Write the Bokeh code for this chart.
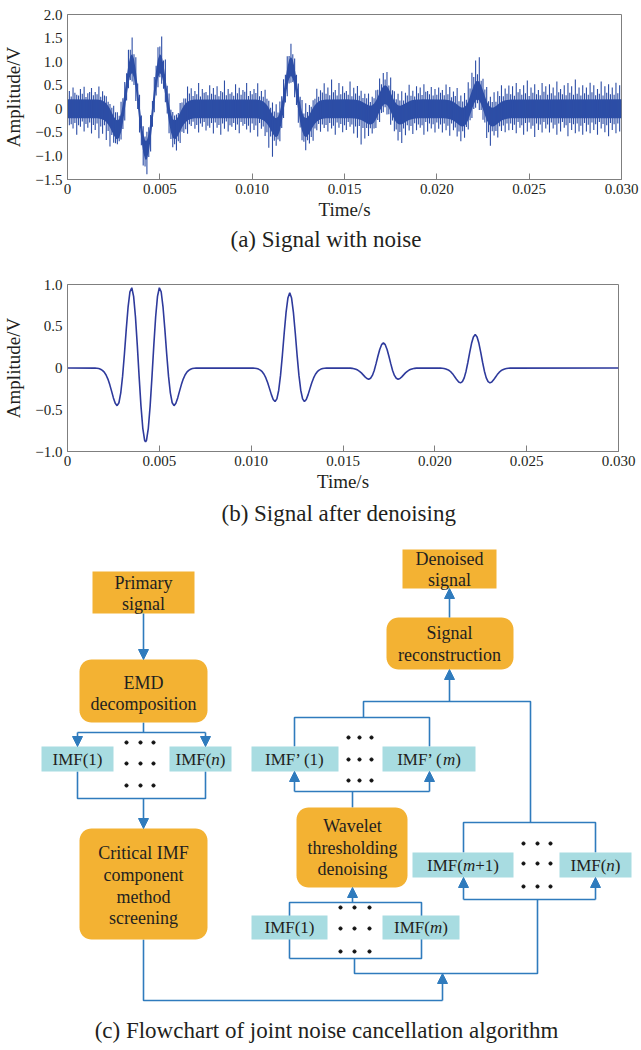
import numpy as np
from bokeh.plotting import figure
from bokeh.layouts import column
from bokeh.models import Range1d, FixedTicker, Label, Arrow, NormalHead, Title
from bokeh.core.properties import value
from bokeh.embed import file_html
from bokeh.resources import INLINE

SERIF = "Liberation Serif"
FRAME = "#7f7f7f"
TEXT = "#231f20"
NOISY = "#2d4ea6"
CLEAN = "#2e3a9c"
BLUE = "#2f7bbd"
ORANGE = "#f3b233"
CYAN = "#a8dce1"

# ---------------------------------------------------------------- data
# Denoised signal: time in ms, amplitude in V
time_ms = [
    0.0,
    1.5, 1.6, 1.7, 1.8, 1.9, 2.0, 2.1, 2.2, 2.3, 2.4, 2.5, 2.6, 2.7, 2.8, 2.9,
    3.0, 3.1, 3.2, 3.3, 3.4, 3.5, 3.6, 3.7, 3.8, 3.9, 4.0, 4.1, 4.2, 4.25, 4.3,
    4.4, 4.5, 4.6, 4.7, 4.8, 4.9, 5.0, 5.1, 5.2, 5.3, 5.4, 5.5, 5.6, 5.7, 5.8,
    5.9, 6.0, 6.1, 6.2, 6.3, 6.4, 6.5, 6.6, 6.7, 6.8, 6.9, 7.0,
    10.1, 10.2, 10.3, 10.4, 10.5, 10.6, 10.7, 10.8, 10.9, 11.0, 11.1, 11.2,
    11.3, 11.4, 11.5, 11.6, 11.7, 11.8, 11.9, 12.0, 12.1, 12.2, 12.3, 12.4,
    12.5, 12.6, 12.7, 12.8, 12.9, 13.0, 13.1, 13.2, 13.3, 13.4, 13.5, 13.6,
    13.7, 13.8, 13.9, 14.0, 14.1,
    15.2, 15.3, 15.4, 15.5, 15.6, 15.7, 15.8, 15.9, 16.0, 16.1, 16.2, 16.3,
    16.4, 16.5, 16.6, 16.7, 16.8, 16.9, 17.0, 17.1, 17.2, 17.3, 17.4, 17.5,
    17.6, 17.7, 17.8, 17.9, 18.0, 18.1, 18.2, 18.3, 18.4, 18.5, 18.6, 18.7,
    18.8, 18.9, 19.0, 19.1, 19.2,
    20.2, 20.3, 20.4, 20.5, 20.6, 20.7, 20.8, 20.9, 21.0, 21.1, 21.2, 21.3,
    21.4, 21.5, 21.6, 21.7, 21.8, 21.9, 22.0, 22.1, 22.2, 22.3, 22.4, 22.5,
    22.6, 22.7, 22.8, 22.9, 23.0, 23.1, 23.2, 23.3, 23.4, 23.5, 23.6, 23.7,
    23.8, 23.9, 24.0, 24.1, 24.2,
    30.0,
]
amplitude = [
    0.0,
    -0.002, -0.003, -0.007, -0.015, -0.028, -0.049, -0.084, -0.133, -0.199,
    -0.277, -0.358, -0.423, -0.451, -0.416, -0.299,
    -0.098, 0.170, 0.466, 0.733, 0.913, 0.961, 0.857, 0.614, 0.274, -0.103,
    -0.454, -0.722, -0.866, -0.885, -0.866,
    -0.722, -0.454, -0.103, 0.274, 0.614, 0.857, 0.961, 0.913, 0.733, 0.466,
    0.170, -0.098, -0.299, -0.416, -0.451,
    -0.423, -0.358, -0.277, -0.199, -0.133, -0.084, -0.049, -0.028, -0.015,
    -0.007, -0.003, -0.002,
    -0.001, -0.003, -0.006, -0.013, -0.025, -0.044, -0.075, -0.119, -0.177,
    -0.247, -0.319, -0.377, -0.402, -0.370, -0.266, -0.086, 0.155, 0.422,
    0.666, 0.838, 0.900, 0.838, 0.666, 0.422, 0.155, -0.086, -0.266, -0.370,
    -0.402, -0.377, -0.319, -0.247, -0.177, -0.119, -0.075, -0.044, -0.025,
    -0.013, -0.006, -0.003, -0.001,
    0.000, -0.001, -0.002, -0.004, -0.008, -0.015, -0.025, -0.040, -0.059,
    -0.082, -0.106, -0.126, -0.134, -0.123, -0.089, -0.029, 0.052, 0.141,
    0.222, 0.279, 0.300, 0.279, 0.222, 0.141, 0.052, -0.029, -0.089, -0.123,
    -0.134, -0.126, -0.106, -0.082, -0.059, -0.040, -0.025, -0.015, -0.008,
    -0.004, -0.002, -0.001, 0.000,
    -0.001, -0.001, -0.003, -0.006, -0.011, -0.020, -0.033, -0.053, -0.079,
    -0.110, -0.142, -0.168, -0.178, -0.164, -0.118, -0.038, 0.069, 0.187,
    0.296, 0.372, 0.400, 0.372, 0.296, 0.187, 0.069, -0.038, -0.118, -0.164,
    -0.178, -0.168, -0.142, -0.110, -0.079, -0.053, -0.033, -0.020, -0.011,
    -0.006, -0.003, -0.001, -0.001,
    0.0,
]

# Noisy signal: excursions above / below the denoised trace.
# Outer spikes sit at 0.1, 0.3, ... ms, inner spikes at 0.0, 0.2, ... ms.
noise_step_ms = 0.2
noise_up = [
    0.38, 0.45, 0.30, 0.42, 0.47, 0.33, 0.44, 0.36, 0.48, 0.40,
    0.35, 0.30, 0.42, 0.38, 0.45, 0.40, 0.52, 0.55, 0.48, 0.40,
    0.35, 0.38, 0.32, 0.40, 0.45, 0.62, 0.58, 0.42, 0.35, 0.30,
    0.40, 0.35, 0.52, 0.45, 0.38, 0.55, 0.42, 0.36, 0.50, 0.44,
    0.48, 0.38, 0.60, 0.42, 0.35, 0.52, 0.45, 0.40, 0.55, 0.38,
    0.42, 0.55, 0.40, 0.48, 0.35, 0.45, 0.50, 0.42, 0.47, 0.45,
    0.48, 0.40, 0.38, 0.45, 0.52, 0.40, 0.36, 0.50, 0.42, 0.55,
    0.45, 0.62, 0.40, 0.55, 0.48, 0.38, 0.58, 0.45, 0.50, 0.42,
    0.40, 0.45, 0.38, 0.42, 0.50, 0.48, 0.50, 0.52, 0.40, 0.44,
    0.50, 0.42, 0.55, 0.40, 0.48, 0.45, 0.52, 0.38, 0.46, 0.42,
    0.45, 0.40, 0.52, 0.48, 0.42, 0.55, 0.45, 0.50, 0.60, 0.58,
    0.65, 0.72, 0.45, 0.50, 0.42, 0.52, 0.48, 0.55, 0.45, 0.50,
    0.48, 0.55, 0.42, 0.50, 0.60, 0.45, 0.52, 0.40, 0.55, 0.48,
    0.52, 0.45, 0.58, 0.42, 0.50, 0.55, 0.48, 0.62, 0.45, 0.50,
    0.45, 0.55, 0.50, 0.42, 0.58, 0.48, 0.52, 0.45, 0.55, 0.50,
]
noise_down = [
    0.35, 0.42, 0.55, 0.38, 0.48, 0.40, 0.52, 0.45, 0.62, 0.50,
    0.58, 0.60, 0.36, 0.30, 0.35, 0.42, 0.30, 0.38, 0.45, 0.40,
    0.48, 0.52, 0.45, 0.35, 0.40, 0.38, 0.33, 0.42, 0.40, 0.46,
    0.45, 0.38, 0.48, 0.35, 0.42, 0.50, 0.38, 0.46, 0.40, 0.52,
    0.40, 0.55, 0.42, 0.48, 0.38, 0.45, 0.52, 0.36, 0.44, 0.50,
    0.45, 0.58, 0.40, 0.50, 0.65, 0.70, 0.38, 0.42, 0.35, 0.40,
    0.35, 0.42, 0.45, 0.40, 0.48, 0.42, 0.50, 0.38, 0.46, 0.40,
    0.48, 0.42, 0.55, 0.40, 0.50, 0.45, 0.38, 0.52, 0.60, 0.72,
    0.55, 0.45, 0.40, 0.38, 0.42, 0.35, 0.40, 0.48, 0.45, 0.55,
    0.60, 0.48, 0.42, 0.52, 0.45, 0.40, 0.55, 0.48, 0.42, 0.50,
    0.42, 0.50, 0.45, 0.55, 0.40, 0.48, 0.52, 0.45, 0.40, 0.38,
    0.35, 0.40, 0.42, 0.58, 0.62, 0.40, 0.50, 0.42, 0.48, 0.45,
    0.45, 0.52, 0.40, 0.55, 0.48, 0.42, 0.60, 0.45, 0.50, 0.42,
    0.50, 0.42, 0.55, 0.48, 0.40, 0.58, 0.45, 0.52, 0.48, 0.55,
    0.48, 0.52, 0.45, 0.55, 0.42, 0.50, 0.58, 0.45, 0.52, 0.48,
]
noise_up_inner = [
    0.30, 0.26, 0.34, 0.28, 0.32, 0.25, 0.36, 0.29, 0.31, 0.27,
    0.33, 0.28, 0.30, 0.35, 0.27, 0.32, 0.29, 0.34, 0.30, 0.26,
    0.31, 0.28, 0.33, 0.27, 0.30, 0.36, 0.29, 0.32, 0.28, 0.31,
    0.27, 0.33, 0.30, 0.35, 0.28, 0.31, 0.26, 0.34, 0.29, 0.32,
    0.30, 0.27, 0.35, 0.29, 0.32, 0.28, 0.33, 0.30, 0.36, 0.27,
    0.31, 0.34, 0.28, 0.30, 0.33, 0.27, 0.32, 0.29, 0.35, 0.30,
    0.28, 0.32, 0.30, 0.34, 0.27, 0.31, 0.29, 0.33, 0.30, 0.36,
    0.32, 0.29, 0.35, 0.28, 0.31, 0.34, 0.30, 0.27, 0.33, 0.30,
    0.29, 0.33, 0.28, 0.31, 0.35, 0.30, 0.32, 0.27, 0.34, 0.29,
    0.31, 0.28, 0.34, 0.30, 0.27, 0.33, 0.29, 0.36, 0.31, 0.28,
    0.30, 0.34, 0.29, 0.32, 0.28, 0.35, 0.30, 0.33, 0.31, 0.36,
    0.38, 0.33, 0.30, 0.34, 0.28, 0.32, 0.29, 0.35, 0.30, 0.33,
    0.31, 0.28, 0.35, 0.30, 0.33, 0.27, 0.34, 0.31, 0.29, 0.36,
    0.30, 0.33, 0.28, 0.35, 0.31, 0.29, 0.34, 0.30, 0.32, 0.28,
    0.33, 0.30, 0.35, 0.29, 0.32, 0.28, 0.34, 0.31, 0.30, 0.33,
]
noise_down_inner = [
    0.28, 0.33, 0.30, 0.35, 0.27, 0.32, 0.29, 0.34, 0.31, 0.36,
    0.30, 0.34, 0.28, 0.31, 0.27, 0.33, 0.29, 0.30, 0.35, 0.28,
    0.32, 0.36, 0.30, 0.28, 0.33, 0.29, 0.31, 0.27, 0.34, 0.30,
    0.33, 0.29, 0.35, 0.30, 0.27, 0.34, 0.31, 0.28, 0.36, 0.30,
    0.29, 0.34, 0.31, 0.27, 0.35, 0.30, 0.33, 0.28, 0.32, 0.36,
    0.31, 0.35, 0.29, 0.33, 0.38, 0.34, 0.30, 0.28, 0.32, 0.29,
    0.30, 0.27, 0.34, 0.31, 0.33, 0.29, 0.35, 0.30, 0.28, 0.32,
    0.34, 0.30, 0.36, 0.29, 0.32, 0.35, 0.28, 0.33, 0.37, 0.34,
    0.35, 0.30, 0.28, 0.33, 0.29, 0.31, 0.27, 0.34, 0.30, 0.35,
    0.36, 0.31, 0.29, 0.34, 0.30, 0.33, 0.35, 0.28, 0.31, 0.33,
    0.29, 0.33, 0.31, 0.35, 0.28, 0.32, 0.34, 0.30, 0.27, 0.31,
    0.30, 0.28, 0.32, 0.36, 0.38, 0.30, 0.33, 0.29, 0.32, 0.30,
    0.31, 0.34, 0.28, 0.35, 0.30, 0.29, 0.36, 0.31, 0.33, 0.28,
    0.33, 0.29, 0.34, 0.31, 0.28, 0.35, 0.30, 0.33, 0.31, 0.36,
    0.30, 0.34, 0.29, 0.33, 0.28, 0.32, 0.35, 0.30, 0.33, 0.31,
]
noise_core = 0.2

x_ticks = [0, 0.005, 0.010, 0.015, 0.020, 0.025, 0.030]
x_tick_labels = ["0", "0.005", "0.010", "0.015", "0.020", "0.025", "0.030"]
ya_ticks = [2.0, 1.5, 1.0, 0.5, 0, -0.5, -1.0, -1.5]
ya_tick_labels = ["2.0", "1.5", "1.0", "0.5", "0", "\u22120.5", "\u22121.0", "\u22121.5"]
yb_ticks = [1.0, 0.5, 0, -0.5, -1.0]
yb_tick_labels = ["1.0", "0.5", "0", "\u22120.5", "\u22121.0"]

CAPTION_SIZE = "23px"


def signal_figure(height, borders, y_range, yticks, ylabels, caption, caption_offset, caption_gap):
    left, right, top, bottom = borders
    p = figure(width=641, height=height, output_backend="svg", toolbar_location=None,
               x_range=Range1d(0, 0.030), y_range=Range1d(*y_range),
               min_border_left=left, min_border_right=right,
               min_border_top=top, min_border_bottom=bottom)
    p.frame_align = False
    p.grid.visible = False
    p.outline_line_color = FRAME
    p.outline_line_width = 1
    xa, ya = p.xaxis[0], p.yaxis[0]
    xa.ticker = FixedTicker(ticks=x_ticks)
    xa.major_label_overrides = dict(zip(x_ticks, x_tick_labels))
    ya.ticker = FixedTicker(ticks=yticks)
    ya.major_label_overrides = dict(zip(yticks, ylabels))
    for ax in (xa, ya):
        ax.axis_line_color = FRAME
        ax.major_tick_line_color = FRAME
        ax.minor_tick_line_color = None
        ax.major_label_text_font = SERIF
        ax.major_label_text_font_size = "15px"
        ax.major_label_text_color = TEXT
        ax.axis_label_text_font = SERIF
        ax.axis_label_text_font_size = "19px"
        ax.axis_label_text_font_style = "normal"
        ax.axis_label_text_color = TEXT
    xa.major_tick_in = 6
    xa.major_tick_out = 0
    xa.major_label_standoff = 4
    xa.axis_label = "Time/s"
    xa.axis_label_standoff = 2
    ya.major_tick_in = 0
    ya.major_tick_out = 0
    ya.major_label_standoff = 5
    ya.axis_label = "Amplitude/V"
    ya.axis_label_standoff = 8
    p.add_layout(Title(text=caption, align="left", offset=caption_offset, standoff=caption_gap,
                       text_font=SERIF, text_font_size=CAPTION_SIZE, text_font_style="normal",
                       text_color=TEXT), "below")
    return p


t_s = np.array(time_ms) / 1000.0
amp = np.array(amplitude)

# (a) signal with noise
pa = signal_figure(262, (66, 20, 14, 83), (-1.5, 2.0), ya_ticks, ya_tick_labels,
                   "(a) Signal with noise", 163, 4)
pa.varea(x=t_s, y1=amp - noise_core, y2=amp + noise_core, fill_color=NOISY)
outer_t = noise_step_ms / 2 + noise_step_ms * np.arange(len(noise_up))
inner_t = noise_step_ms * np.arange(len(noise_up_inner))
for tt, up, down in ((inner_t, noise_up_inner, noise_down_inner), (outer_t, noise_up, noise_down)):
    base = np.interp(tt, time_ms, amplitude)
    pa.segment(x0=tt / 1000.0, y0=base - np.array(down), x1=tt / 1000.0, y1=base + np.array(up),
               line_color=NOISY, line_width=1.1)

# (b) signal after denoising
pb = signal_figure(268, (64, 23, 22, 79), (-1.0, 1.0), yb_ticks, yb_tick_labels,
                   "(b) Signal after denoising", 154, 8)
pb.line(x=t_s, y=amp, line_color=CLEAN, line_width=1.6)

# (c) flowchart, drawn in page pixel units
pc = figure(width=641, height=520, output_backend="svg", toolbar_location=None,
            x_range=Range1d(0, 641), y_range=Range1d(1050, 530),
            min_border=0)
pc.frame_align = False
pc.axis.visible = False
pc.grid.visible = False
pc.outline_line_color = None


def rounded(x0, x1, y0, y1, r):
    xs, ys = [], []
    corners = [(x1 - r, y1 - r, 0), (x0 + r, y1 - r, 90), (x0 + r, y0 + r, 180), (x1 - r, y0 + r, 270)]
    for cx, cy, a0 in corners:
        ang = np.radians(np.linspace(a0, a0 + 90, 10))
        xs.extend(cx + r * np.cos(ang))
        ys.extend(cy + r * np.sin(ang))
    return xs, ys


# connector lines
lines = [
    [(143, 722), (143, 732)],
    [(77, 732), (205, 732)],
    [(77, 771), (77, 798), (205, 798), (205, 771)],
    [(143, 939), (143, 1000), (442, 1000)],
    [(289, 958), (289, 902), (421, 902), (421, 958), (289, 958)],
    [(354, 958), (354, 973), (537, 973), (537, 899)],
    [(463, 852), (463, 822), (595, 822), (595, 852)],
    [(463, 899), (595, 899)],
    [(530, 822), (530, 701), (363, 701), (363, 717)],
    [(294, 746), (294, 717), (429, 717), (429, 746)],
    [(294, 791), (429, 791)],
    [(352, 791), (352, 807)],
]
pc.multi_line(xs=[[q[0] for q in ln] for ln in lines], ys=[[q[1] for q in ln] for ln in lines],
              line_color=BLUE, line_width=1.6)

arrows = [
    ((143, 613), (143, 659)),
    ((77, 732), (77, 746)),
    ((205, 732), (205, 746)),
    ((143, 798), (143, 828)),
    ((442, 1000), (442, 973)),
    ((352, 902), (352, 887)),
    ((463, 899), (463, 877)),
    ((595, 899), (595, 877)),
    ((449, 701), (449, 669)),
    ((294, 791), (294, 771)),
    ((429, 791), (429, 771)),
    ((449, 617), (449, 588)),
]
for (xs0, ys0), (xe, ye) in arrows:
    pc.add_layout(Arrow(end=NormalHead(size=10, fill_color=BLUE, line_color=BLUE, line_width=1),
                        x_start=xs0, y_start=ys0, x_end=xe, y_end=ye,
                        line_color=BLUE, line_width=1.6))

# process boxes
square_boxes = [(92, 194, 571, 613), (402, 496, 549, 588)]
round_boxes = [(79, 207, 659, 722), (79, 207, 828, 939), (296, 407, 807, 887), (386, 513, 617, 669)]
cyan_boxes = [(41, 113, 746, 771), (169, 231, 746, 771), (251, 338, 746, 771), (382, 475, 746, 771),
              (412, 513, 852, 877), (559, 631, 852, 877), (251, 327, 915, 939), (382, 459, 915, 939)]
pc.quad(left=[b[0] for b in square_boxes], right=[b[1] for b in square_boxes],
        top=[b[2] for b in square_boxes], bottom=[b[3] for b in square_boxes],
        fill_color=ORANGE, line_color=None)
rb = [rounded(*b, 12) for b in round_boxes]
pc.patches(xs=[r[0] for r in rb], ys=[r[1] for r in rb], fill_color=ORANGE, line_color=None)
pc.quad(left=[b[0] for b in cyan_boxes], right=[b[1] for b in cyan_boxes],
        top=[b[2] for b in cyan_boxes], bottom=[b[3] for b in cyan_boxes],
        fill_color=CYAN, line_color=None)

# box texts
box_text = [
    (143, 582, "Primary"), (143, 603, "signal"),
    (143, 682, "EMD"), (143, 703, "decomposition"),
    (143, 852, "Critical IMF"), (143, 874, "component"), (143, 896, "method"), (143, 917, "screening"),
    (352, 825, "Wavelet"), (352, 847, "thresholding"), (352, 868, "denoising"),
    (449, 632, "Signal"), (449, 654, "reconstruction"),
    (449, 558, "Denoised"), (449, 579, "signal"),
]
pc.text(x=[b[0] for b in box_text], y=[b[1] for b in box_text], text=[b[2] for b in box_text],
        text_align="center", text_baseline="middle", text_font=value(SERIF),
        text_font_size="18px", text_color=TEXT)

# IMF labels with italic indices
EM = {"I": .333, "M": .889, "F": .556, "(": .333, ")": .333, "1": .5, "+": .564,
      "\u2019": .333, " ": .25, "n": .5, "m": .722}
LBL = 17


def imf_label(cx, cy, parts):
    widths = [sum(EM[c] for c in t) * LBL for t, _ in parts]
    x = cx - sum(widths) / 2
    for (t, italic), w in zip(parts, widths):
        pc.text(x=[x], y=[cy], text=[t], text_align="left", text_baseline="middle",
                text_font=value(SERIF), text_font_size=f"{LBL}px", text_color=TEXT,
                text_font_style="italic" if italic else "normal")
        x += w


imf_label(77, 758.5, [("IMF(1)", False)])
imf_label(200, 758.5, [("IMF(", False), ("n", True), (")", False)])
imf_label(294.5, 758.5, [("IMF\u2019 (1)", False)])
imf_label(428.5, 758.5, [("IMF\u2019 (", False), ("m", True), (")", False)])
imf_label(462.5, 864.5, [("IMF(", False), ("m", True), ("+1)", False)])
imf_label(595, 864.5, [("IMF(", False), ("n", True), (")", False)])
imf_label(289, 927, [("IMF(1)", False)])
imf_label(420.5, 927, [("IMF(", False), ("m", True), (")", False)])

# ellipsis dots between the IMF boxes
dot_groups = [((126, 140, 153), (742, 763, 785)), ((348, 359, 371), (737, 759, 780)),
              ((340, 354, 369), (907, 928, 951)), ((523, 537, 550), (843, 863, 886))]
dx, dy = [], []
for gx, gy in dot_groups:
    for yy in gy:
        for xx in gx:
            dx.append(xx)
            dy.append(yy)
pc.scatter(x=dx, y=dy, size=3.2, color="#111111")

pc.add_layout(Label(x=326, y=1030, text="(c) Flowchart of joint noise cancellation algorithm",
                    text_align="center", text_baseline="middle", text_font=SERIF,
                    text_font_size=CAPTION_SIZE, text_color=TEXT))

layout = column(pa, pb, pc, spacing=0)
open("out.html", "w").write(file_html(layout, INLINE))
